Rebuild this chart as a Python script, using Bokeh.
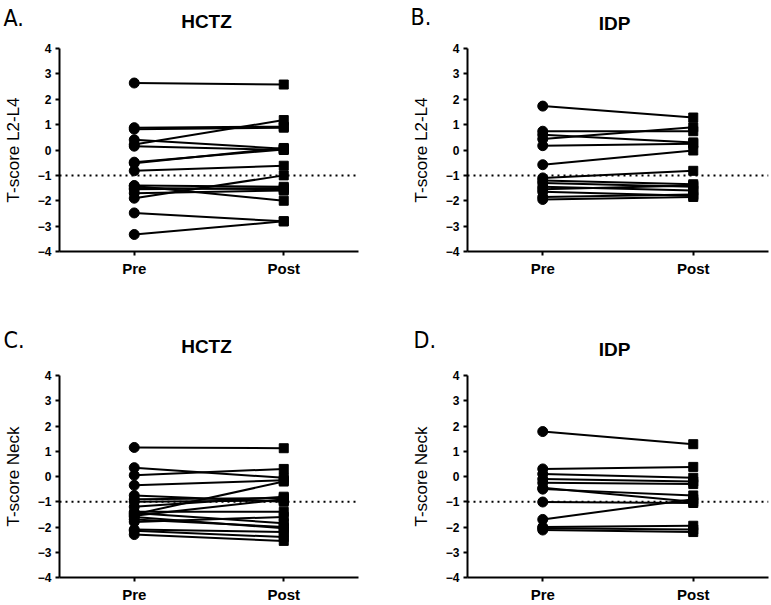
from bokeh.plotting import figure
from bokeh.models import FactorRange, Range1d, Span, FixedTicker, ColumnDataSource
from bokeh.layouts import column, row
from bokeh.embed import file_html
from bokeh.resources import INLINE
from bokeh.core.properties import value

timepoints = ["Pre", "Post"]
y_ticks = [-4, -3, -2, -1, 0, 1, 2, 3, 4]
threshold = -1

panel_letters_top = ["A.", "B."]
panel_titles_top = ["HCTZ", "IDP"]
panel_letters_bottom = ["C.", "D."]
panel_titles_bottom = ["HCTZ", "IDP"]

hctz_l24_pre = [2.64, 0.88, 0.82, 0.22, 0.40, 0.15, -0.52, -0.48, -0.82, -1.90, -1.40, -1.50, -1.55, -1.42, -1.70, -2.48, -3.33]
hctz_l24_post = [2.58, 0.92, 0.88, 1.18, 0.05, 0.00, 0.08, 0.02, -0.62, -1.00, -1.45, -1.55, -1.50, -2.00, -1.60, -2.81, -2.81]

idp_l24_pre = [1.73, 0.74, 0.43, 0.60, 0.17, -0.58, -1.10, -1.20, -1.30, -1.45, -1.55, -1.65, -1.85, -1.95]
idp_l24_post = [1.28, 0.74, 0.90, 0.30, 0.25, -0.02, -0.82, -1.35, -1.45, -1.60, -1.40, -1.80, -1.75, -1.85]

hctz_neck_pre = [1.15, 0.35, 0.05, -0.35, -1.50, -0.90, -1.00, -1.20, -0.75, -1.40, -1.45, -1.55, -1.70, -1.80, -2.10, -2.15, -2.30, -1.60]
hctz_neck_post = [1.12, -0.05, 0.30, -0.15, -0.20, -0.85, -0.95, -0.80, -1.00, -1.40, -1.85, -0.90, -2.00, -1.60, -2.20, -2.40, -2.55, -2.05]

idp_neck_pre = [1.78, 0.30, 0.10, -0.10, -0.25, -0.45, -0.50, -1.01, -1.70, -2.00, -2.12, -2.05]
idp_neck_post = [1.28, 0.38, -0.05, -0.20, -0.30, -1.00, -0.75, -1.05, -0.90, -1.95, -2.20, -2.10]

FONT = "Liberation Sans"
LETTER_FONT = "DejaVu Sans Condensed"
PAGE_W = 771


def header(height, letters, letter_x, letter_y, titles, title_x, title_y):
    h = figure(width=PAGE_W, height=height, x_range=Range1d(0, PAGE_W), y_range=Range1d(height, 0),
               output_backend="svg", toolbar_location=None, x_axis_location=None, y_axis_location=None,
               title_location=None, min_border=0, min_border_left=0, min_border_right=0,
               min_border_top=0, min_border_bottom=0)
    h.outline_line_color = None
    h.xgrid.visible = False
    h.ygrid.visible = False
    h.text(x=letter_x, y=letter_y, text=letters, text_font=value(LETTER_FONT), text_font_size="23px",
           text_baseline="middle", text_align="left", text_color="black")
    h.text(x=title_x, y=title_y, text=titles, text_font=value(FONT), text_font_style="bold",
           text_font_size="19px", text_baseline="middle", text_align="center", text_color="black")
    return h


def panel(pre, post, ylabel, width, height, b_left, b_right, b_top, b_bottom):
    p = figure(width=width, height=height, x_range=FactorRange(factors=timepoints, range_padding=0),
               y_range=Range1d(-4, 4), output_backend="svg", toolbar_location=None,
               title_location=None,
               min_border_left=b_left, min_border_right=b_right,
               min_border_top=b_top, min_border_bottom=b_bottom)
    p.outline_line_color = None
    p.xgrid.visible = False
    p.ygrid.visible = False

    for ax in (p.xaxis[0], p.yaxis[0]):
        ax.axis_line_width = 2
        ax.axis_line_color = "black"
        ax.major_tick_line_width = 2
        ax.major_tick_line_color = "black"
        ax.major_tick_out = 4
        ax.major_tick_in = 0
        ax.minor_tick_line_color = None
        ax.major_label_text_font = FONT
        ax.major_label_text_font_style = "bold"
        ax.major_label_text_color = "black"

    p.yaxis.ticker = FixedTicker(ticks=y_ticks)
    p.yaxis.major_label_text_font_size = "12px"
    p.yaxis.major_label_standoff = 4
    p.yaxis.axis_label = ylabel
    p.yaxis.axis_label_text_font = FONT
    p.yaxis.axis_label_text_font_style = "normal"
    p.yaxis.axis_label_text_font_size = "17px"
    p.yaxis.axis_label_text_color = "black"
    p.yaxis.axis_label_standoff = 12

    p.xaxis.major_label_text_font_size = "15px"
    p.xaxis.major_label_standoff = 4

    p.add_layout(Span(location=threshold, dimension="width", line_color="black",
                      line_width=2, line_dash="2 4"))

    src = ColumnDataSource(dict(x0=["Pre"] * len(pre), x1=["Post"] * len(post), pre=pre, post=post))
    p.segment(x0="x0", y0="pre", x1="x1", y1="post", source=src, line_color="black", line_width=2)
    p.scatter(x="x0", y="pre", source=src, marker="circle", size=10, fill_color="black", line_color="black")
    p.scatter(x="x1", y="post", source=src, marker="square", size=9, fill_color="black", line_color="black")
    return p


h1 = header(40, panel_letters_top, [3, 410], [17, 16], panel_titles_top, [206, 614], [21, 23])
pA = panel(hctz_l24_pre, hctz_l24_post, "T-score L2-L4", 408, 280, 48, 50, 8, 67)
pB = panel(idp_l24_pre, idp_l24_post, "T-score L2-L4", 363, 280, 50, 3, 6, 69)
h2 = header(40, panel_letters_bottom, [3, 413], [19, 19], panel_titles_bottom, [206, 614], [26, 29])
pC = panel(hctz_neck_pre, hctz_neck_post, "T-score Neck", 408, 245, 48, 50, 13, 27)
pD = panel(idp_neck_pre, idp_neck_post, "T-score Neck", 363, 245, 50, 3, 15, 25)

layout = column(h1, row(pA, pB, spacing=0), h2, row(pC, pD, spacing=0), spacing=0)

open("out.html", "w").write(file_html(layout, INLINE))
